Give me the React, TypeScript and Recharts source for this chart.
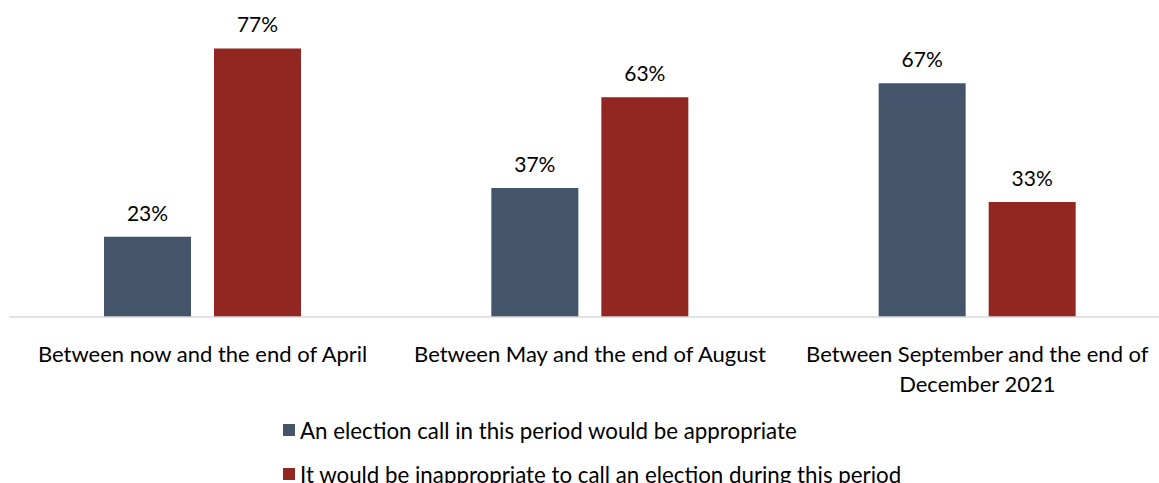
import React from 'react';
import { BarChart, Bar, XAxis, YAxis, Legend, LabelList } from 'recharts';

const periods = [
  'Between now and the end of April',
  'Between May and the end of August',
  'Between September and the end of December 2021',
];
// how each category label breaks over lines
const periodLines = [
  ['Between now and the end of April'],
  ['Between May and the end of August'],
  ['Between September and the end of', 'December 2021'],
];
const appropriate = [23, 37, 67];
const inappropriate = [77, 63, 33];

const seriesNames = [
  'An election call in this period would be appropriate',
  'It would be inappropriate to call an election during this period',
];
const colors = ['#44546A', '#922722'];

const data = periods.map((period, i) => ({
  period,
  appropriate: appropriate[i],
  inappropriate: inappropriate[i],
}));

const FONT = 'Lato, "DejaVu Sans", sans-serif';

const CategoryTick = (props: any) => {
  const { x, y, index } = props;
  const lines = periodLines[index] || [props.payload.value];
  return (
    <text x={x} y={y} textAnchor="middle" fontSize={22} fontFamily={FONT} fill="#000">
      {lines.map((line, i) => (
        <tspan key={i} x={x} y={y + 37 + i * 30}>
          {line}
        </tspan>
      ))}
    </text>
  );
};

const LegendBox = () => (
  <div style={{ fontFamily: FONT, fontSize: 22.3, color: '#000', textAlign: 'left' }}>
    {seriesNames.map((name, i) => (
      <div key={name} style={{ height: 44, display: 'flex', alignItems: 'center' }}>
        <span
          style={{
            display: 'inline-block',
            width: 12,
            height: 12,
            background: colors[i],
            marginRight: 5,
          }}
        />
        {name}
      </div>
    ))}
  </div>
);

const App: React.FC = () => {
  return (
    <div style={{ position: 'absolute', left: 0, top: 0, width: 1159, height: 483, overflow: 'hidden', background: '#fff' }}>
      <BarChart
        width={1180}
        height={483}
        data={data}
        margin={{ top: 38, right: 9, left: 9, bottom: 0 }}
        barGap={23}
        barSize={87}
      >
        <XAxis
          dataKey="period"
          axisLine={{ stroke: '#D9D9D9', strokeWidth: 1.5 }}
          tickLine={false}
          tick={<CategoryTick />}
          interval={0}
          height={78}
        />
        <YAxis hide domain={[0, 80]} />
        <Legend
          verticalAlign="bottom"
          content={<LegendBox />}
          wrapperStyle={{ left: 283, width: 'auto', height: 88, bottom: -13 }}
        />
        <Bar dataKey="appropriate" fill={colors[0]} isAnimationActive={false}>
          <LabelList
            dataKey="appropriate"
            position="top"
            offset={16}
            formatter={(v: any) => `${v}%`}
            style={{ fontFamily: FONT, fontSize: 21, fill: '#000' }}
          />
        </Bar>
        <Bar dataKey="inappropriate" fill={colors[1]} isAnimationActive={false}>
          <LabelList
            dataKey="inappropriate"
            position="top"
            offset={16}
            formatter={(v: any) => `${v}%`}
            style={{ fontFamily: FONT, fontSize: 21, fill: '#000' }}
          />
        </Bar>
      </BarChart>
    </div>
  );
};

export default App;
